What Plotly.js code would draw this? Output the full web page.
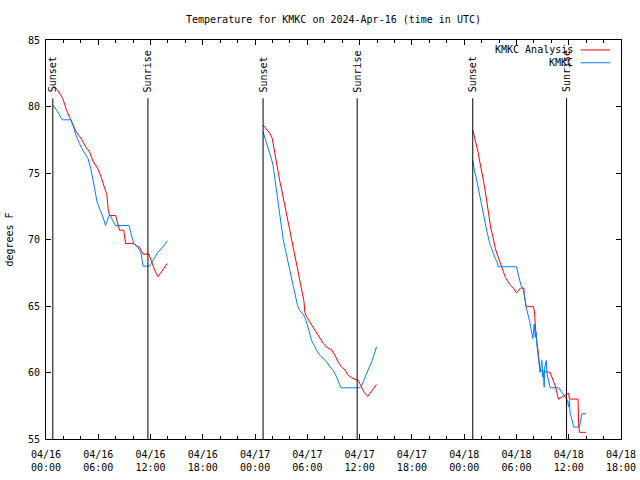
<!DOCTYPE html>
<html>
<head>
<meta charset="utf-8">
<script src="https://cdn.plot.ly/plotly-3.0.1.min.js"></script>
<style>html,body{margin:0;padding:0;background:#fff;}#chart{width:640px;height:480px;}</style>
</head>
<body>
<div id="chart"></div>
<script>
// ---- data ----
const nightDates = ['2024-04-16', '2024-04-17', '2024-04-18'];

// KMKC Analysis (red)
const anaTime1 = ['00:48','01:22','01:56','02:19','02:42','03:05','03:28','04:02','04:37','05:00','05:23','05:58','06:20','06:43','06:59','07:09','07:18','07:59','08:16','08:27','08:55','09:08','09:59','10:45','11:08','11:49','12:05','12:28','12:51','13:26','13:56'];
const anaTemp1 = [81.6,81.2,80.6,79.8,79.2,78.7,78.1,77.6,76.9,76.6,75.9,75.3,74.7,73.9,73.4,72.2,71.8,71.8,71.2,70.7,70.7,69.7,69.7,69.4,68.9,68.9,68.4,67.7,67.2,67.7,68.2];
const anaTime2 = ['00:55','01:19','01:41','01:58','02:04','02:16','02:28','02:38','02:50','03:02','03:13','03:25','03:37','03:47','03:59','04:11','04:22','04:34','04:46','04:56','05:08','05:20','05:27','05:36','05:43','05:55','06:17','06:40','07:04','07:26','07:49','08:13','08:47','09:10','09:32','09:56','10:19','10:41','11:05','11:28','11:40','11:50','12:09','12:32','12:55','13:23','13:57'];
const anaTemp2 = [78.6,78.3,78.0,77.6,77.2,76.6,75.8,75.1,74.4,73.8,73.2,72.6,72.1,71.3,70.7,70.1,69.4,68.8,68.2,67.5,67.1,66.4,65.9,65.4,64.5,64.2,63.8,63.4,63.0,62.7,62.2,61.9,61.7,61.3,60.8,60.4,60.2,59.8,59.6,59.5,59.45,59.4,59.0,58.5,58.2,58.65,59.1];
const anaTime3 = ['00:59','01:06','01:13','01:22','01:29','01:36','01:41','01:47','01:52','01:59','02:08','02:15','02:22','02:26','02:31','02:38','02:45','02:50','02:56','03:04','03:13','03:19','03:28','03:35','03:47','03:59','04:10','04:22','04:33','04:44','05:03','05:19','05:42','05:58','06:17','06:28','06:51','06:53','07:07','07:57','08:04','08:09','08:16','08:25','08:32','08:38','08:43','09:52','10:04','10:27','10:50','11:13','11:43','11:59','12:05','13:04','13:08','13:14','13:59'];
const anaTemp3 = [78.25,77.95,77.7,77.3,76.95,76.55,76.2,75.8,75.45,75.05,74.7,74.3,73.95,73.55,73.2,72.7,72.2,71.7,71.2,70.8,70.45,70.05,69.7,69.3,68.9,68.55,68.15,67.8,67.55,67.15,66.8,66.55,66.3,66.0,66.2,66.35,66.35,65.9,64.95,64.95,64.55,63.4,62.65,62.0,61.4,60.8,60.15,60.0,59.65,59.0,58.0,58.15,58.4,58.45,58.0,58.0,56.15,55.5,55.5];

// KMKC observations (blue)
const obsTime1 = ['00:48','01:22','01:52','02:53','03:12','03:28','03:51','04:14','04:49','05:00','05:11','05:34','05:50','06:09','06:32','06:50','07:18','07:41','07:59','09:31','09:47','10:04','10:22','10:45','10:56','11:08','11:54','12:17','12:51','13:21','13:56'];
const obsTemp1 = [80.1,79.6,79.0,79.0,78.4,77.8,77.2,76.7,76.1,75.7,75.2,73.9,72.9,72.3,71.7,71.05,71.9,71.4,71.05,71.05,70.4,69.7,69.55,69.2,68.9,68.0,68.0,68.4,69.05,69.4,69.9];
const obsTime2 = ['00:55','01:07','01:19','01:29','01:41','01:53','02:04','02:11','02:20','02:28','02:34','02:43','02:50','02:57','03:06','03:13','03:25','03:37','03:47','03:59','04:11','04:22','04:34','04:38','04:52','05:08','05:31','05:43','05:55','06:05','06:17','06:29','06:47','07:04','07:26','07:49','08:13','08:35','08:58','09:22','09:51','12:02','12:14','12:37','12:59','13:23','13:57'];
const obsTemp2 = [78.1,77.7,77.3,76.95,76.55,76.05,75.55,74.95,74.3,73.7,73.05,72.45,71.8,71.2,70.55,70.05,69.4,68.8,68.3,67.8,67.3,66.8,66.15,65.8,65.05,64.65,64.4,64.15,63.8,63.4,62.9,62.4,62.05,61.65,61.3,61.05,60.8,60.45,60.15,59.65,58.85,58.85,59.0,59.65,60.15,60.8,61.95];
const obsTime3 = ['00:59','01:06','01:13','01:22','01:29','01:36','01:43','01:52','01:59','02:08','02:15','02:22','02:31','02:38','02:45','02:54','03:01','03:13','03:24','03:35','03:47','03:54','06:00','06:12','06:21','06:31','06:44','06:53','07:07','07:30','07:53','08:02','08:09','08:16','08:20','08:34','08:43','08:55','09:02','09:06','09:11','09:13','09:25','09:29','09:41','09:52','10:50','11:13','11:36','11:52','11:59','12:05','12:10','12:22','12:33','13:14','13:24','13:31','13:59'];
const obsTemp3 = [75.95,75.45,75.05,74.7,74.3,73.95,73.55,72.95,72.45,72.05,71.7,71.3,70.9,70.55,70.15,69.8,69.55,69.15,68.9,68.55,68.3,67.95,67.95,67.4,66.9,66.55,66.3,65.9,64.9,63.9,62.55,63.65,62.65,63.05,62.15,60.9,60.0,60.9,59.65,60.0,58.9,60.3,60.9,60.0,59.5,58.85,58.85,58.5,58.15,57.9,57.4,57.9,56.9,56.5,55.9,55.9,56.5,56.9,56.9];

// Sun events
const sunEventTimes = ['2024-04-16 00:47','2024-04-16 11:42','2024-04-17 00:55','2024-04-17 11:43','2024-04-18 00:59','2024-04-18 11:45'];
const sunEventLabels = ['Sunset','Sunrise','Sunset','Sunrise','Sunset','Sunrise'];

const seriesNames = ['KMKC Analysis', 'KMKC'];
const seriesColors = ['#ff0000', '#0080ff'];

// ---- build traces ----
function joinNights(times, temps) {
  const x = [], y = [];
  times.forEach((tArr, i) => {
    if (i > 0) { x.push(null); y.push(null); }
    tArr.forEach((t, j) => { x.push(nightDates[i] + ' ' + t); y.push(temps[i][j]); });
  });
  return {x, y};
}
const ana = joinNights([anaTime1, anaTime2, anaTime3], [anaTemp1, anaTemp2, anaTemp3]);
const obs = joinNights([obsTime1, obsTime2, obsTime3], [obsTemp1, obsTemp2, obsTemp3]);

const FONT = 'DejaVu Sans Mono, Liberation Mono, monospace';

const traces = [
  {x: ana.x, y: ana.y, type: 'scatter', mode: 'lines', name: seriesNames[0], line: {color: seriesColors[0], width: 1}, connectgaps: false},
  {x: obs.x, y: obs.y, type: 'scatter', mode: 'lines', name: seriesNames[1], line: {color: seriesColors[1], width: 1}, connectgaps: false}
];

const shapes = [];
const annotations = [];
sunEventTimes.forEach((t, i) => {
  shapes.push({type: 'line', xref: 'x', yref: 'paper', x0: t, x1: t, y0: 0, y1: 0.854, line: {color: '#000', width: 1}});
  annotations.push({xref: 'x', yref: 'paper', x: t, y: 0.866, text: sunEventLabels[i], textangle: -90,
    showarrow: false, xanchor: 'center', yanchor: 'bottom', font: {family: FONT, size: 10, color: '#000'}, borderpad: 0});
});

// legend drawn in gnuplot style (text then line sample)
const legY = [0.975, 0.943];
seriesNames.forEach((n, i) => {
  annotations.push({xref: 'paper', yref: 'paper', x: 0.919, y: legY[i], text: n, showarrow: false,
    xanchor: 'right', yanchor: 'middle', font: {family: FONT, size: 10, color: '#000'}, borderpad: 0});
  shapes.push({type: 'line', xref: 'paper', yref: 'paper', x0: 0.93, x1: 0.981, y0: legY[i], y1: legY[i],
    line: {color: seriesColors[i], width: 1}});
});

const layout = {
  width: 640, height: 480,
  margin: {l: 46, r: 19, t: 40, b: 41},
  paper_bgcolor: '#fff', plot_bgcolor: '#fff',
  font: {family: FONT, size: 10, color: '#000'},
  showlegend: false,
  title: {text: 'Temperature for KMKC on 2024-Apr-16 (time in UTC)', x: 0.5, xref: 'paper', y: 0.96, yref: 'container', yanchor: 'middle', font: {family: FONT, size: 10}},
  xaxis: {
    type: 'date', range: ['2024-04-16 00:00', '2024-04-18 18:00'],
    tick0: '2024-04-16 00:00', dtick: 6 * 3600000, tickformat: '%m/%d<br>%H:%M',
    ticks: 'inside', ticklen: 5, tickcolor: '#000', showgrid: false, zeroline: false,
    showline: true, linecolor: '#000', linewidth: 1, mirror: 'ticks', ticklabelstandoff: 6,
    minor: {dtick: 2 * 3600000, ticks: 'inside', ticklen: 3, tickcolor: '#000', showgrid: false},
    tickfont: {family: FONT, size: 10}
  },
  yaxis: {
    range: [55, 85], dtick: 5, ticks: 'inside', ticklen: 5, tickcolor: '#000', ticklabelstandoff: 3,
    showgrid: false, zeroline: false, showline: true, linecolor: '#000', linewidth: 1, mirror: 'ticks',
    title: {text: 'degrees F', font: {family: FONT, size: 10}, standoff: 12},
    tickfont: {family: FONT, size: 10}
  },
  shapes: shapes,
  annotations: annotations
};

Plotly.newPlot('chart', traces, layout, {staticPlot: true, displayModeBar: false});
</script>
</body>
</html>
